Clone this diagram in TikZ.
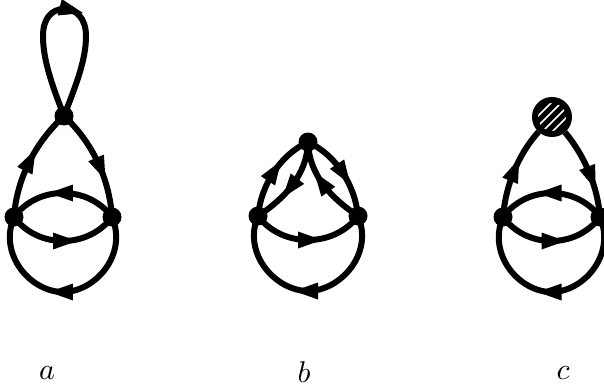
\documentclass[tikz,border=0pt]{standalone}
\usetikzlibrary{arrows.meta,decorations.markings,calc}
\tikzset{
 vertex/.style={circle,fill=black,draw=none,minimum size=19pt,inner sep=0pt},
 blob/.style={circle,draw=black,line width=6pt,fill=white,minimum size=34pt,inner sep=0pt,
   path picture={\foreach \d in {-30,-20,-10,0,10,20,30}{
     \draw[line width=5pt] ([shift={(\d pt-30pt,-30pt)}]path picture bounding box.center) -- ([shift={(\d pt+30pt,30pt)}]path picture bounding box.center);}}},
 lab/.style={inner sep=0pt,scale=3},
 prop/.style={line width=6pt},
 arr/.style={postaction={decorate},decoration={markings,mark=at position #1 with {\fill[black] (14pt,0pt) -- (-10pt,8.5pt) -- (-10pt,-8.5pt) -- cycle;}}}
}
\newcommand{\twoloop}[2]{%
 \draw[prop,arr=0.5] (#2.center) .. controls ($(#2.center)+(-24,-32)$) and ($(#1.center)+(24,-32)$) .. (#1.center);
 \draw[prop,arr=0.5] (#1.center) .. controls ($(#1.center)+(24,32)$) and ($(#2.center)+(-24,32)$) .. (#2.center);
 \draw[prop,arr=0.5] (#2.center) .. controls ($(#2.center)+(16,38)$) and ($(#1.center)!0.5!(#2.center)+(32,75)$) .. ($(#1.center)!0.5!(#2.center)+(0,75)$) .. controls ($(#1.center)!0.5!(#2.center)+(-32,75)$) and ($(#1.center)+(-16,38)$) .. (#1.center);
}
\begin{document}
\begin{tikzpicture}[x=1pt,y=-1pt]
\useasboundingbox (0,0) rectangle (604,388);
% a
\node[vertex] (at) at (64,116) {};
\node[vertex] (al) at (14,217) {};
\node[vertex] (ar) at (112,217) {};
\coordinate (atop) at (64,9);
\coordinate (aleft) at (43,36);
\coordinate (aright) at (86,36);
\draw[prop] (at.center) .. controls (52,85) and (43,60) .. (aleft) .. controls (43,18) and (52,9) .. (atop);
\draw[prop] (aright) .. controls (86,60) and (76,85) .. (at.center);
\draw[prop,arr=0.14] (atop) .. controls (76,9) and (86,18) .. (aright);
\draw[prop,arr=0.5] (al.center) .. controls (17,175) and (38,140) .. (at.center);
\draw[prop,arr=0.55] (at.center) .. controls (90,140) and (109,175) .. (ar.center);
\twoloop{al}{ar}
\node[lab] (la) at (47,373) {$a$};
% b
\node[vertex] (bt) at (308,142) {};
\node[vertex] (bl) at (258,216) {};
\node[vertex] (br) at (358,216) {};
\draw[prop,arr=0.5] (bl.center) .. controls (261,185) and (280,155) .. (bt.center);
\draw[prop,arr=0.5] (bt.center) .. controls (336,155) and (355,185) .. (br.center);
\draw[prop,arr=0.52] (bt.center) .. controls (307,175) and (285,198) .. (bl.center);
\draw[prop,arr=0.52] (br.center) .. controls (331,198) and (309,175) .. (bt.center);
\draw[prop,arr=0.5] (bl.center) .. controls (282,248) and (334,248) .. (br.center);
\draw[prop,arr=0.5] (br.center) .. controls ($(br.center)+(16,38)$) and (340,291) .. (308,291) .. controls (276,291) and ($(bl.center)+(-16,38)$) .. (bl.center);
\node[lab] (lb) at (304,372) {$b$};
% c
\node[vertex] (cl) at (503,217) {};
\node[vertex] (cr) at (600,217) {};
\node[blob] (ct) at (552,117) {};
\draw[prop,arr=0.5] (cl.center) .. controls (506,180) and (522,150) .. (ct);
\draw[prop,arr=0.55] (ct) .. controls (580,150) and (597,180) .. (cr.center);
\twoloop{cl}{cr}
\node[lab] (lc) at (563,373) {$c$};
\end{tikzpicture}
\end{document}
